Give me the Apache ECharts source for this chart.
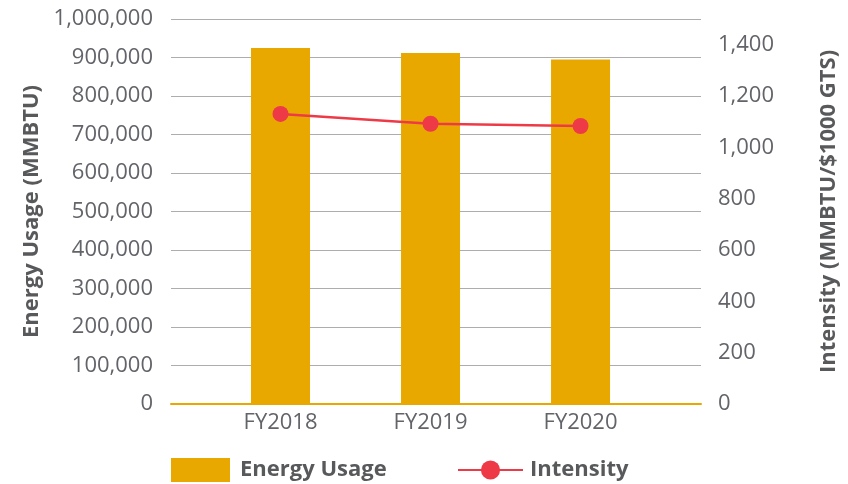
<!DOCTYPE html>
<html>
<head>
<meta charset="utf-8">
<script src="https://cdn.jsdelivr.net/npm/echarts@6/dist/echarts.min.js"></script>
<style>
  html, body { margin: 0; padding: 0; background: #fff; }
  #chart { width: 848px; height: 484px; }
</style>
</head>
<body>
<div id="chart"></div>
<script>
const categories = ['FY2018', 'FY2019', 'FY2020'];
const energyUsage = [925000, 912000, 895000];
const intensity = [1130, 1092, 1083];
const leftTicks = { min: 0, max: 1000000, interval: 100000 };
const rightTicks = { min: 0, max: 1500, interval: 200 };

const gray = '#626469';
const gold = '#E8A800';
const red = '#EE3A46';
const font = '"Open Sans", "Noto Sans", sans-serif';

const chart = echarts.init(document.getElementById('chart'), null, { renderer: 'canvas' });

chart.setOption({
  animation: false,
  backgroundColor: '#ffffff',
  textStyle: { fontFamily: font },
  grid: { left: 171, right: 147, top: 19, bottom: 80 },
  legend: [
    {
      data: [{ name: 'Energy Usage', icon: 'rect' }],
      left: 171, top: 458, padding: 0,
      itemWidth: 59, itemHeight: 24, itemGap: 0,
      textStyle: { color: '#58595b', fontSize: 22, fontWeight: 'bold', fontFamily: font, padding: [0, 0, 0, 5], lineHeight: 24 }
    },
    {
      data: ['Intensity'],
      left: 457, top: 458, padding: 0,
      itemWidth: 65, itemHeight: 24, itemGap: 0,
      textStyle: { color: '#58595b', fontSize: 22, fontWeight: 'bold', fontFamily: font, padding: [0, 0, 0, 2], lineHeight: 24 }
    }
  ],
  xAxis: {
    type: 'value',
    min: -0.73,
    max: 2.803,
    axisLine: { show: true, onZero: false, lineStyle: { color: gold, width: 2 } },
    axisTick: { show: false },
    splitLine: { show: false },
    axisLabel: {
      customValues: [0, 1, 2],
      formatter: v => categories[Math.round(v)],
      color: gray, fontSize: 22, fontFamily: font, margin: 8
    }
  },
  yAxis: [
    {
      type: 'value',
      min: leftTicks.min, max: leftTicks.max, interval: leftTicks.interval,
      name: 'Energy Usage (MMBTU)',
      nameLocation: 'middle',
      nameRotate: 90,
      nameGap: 128,
      nameTextStyle: { color: '#58595b', fontSize: 22, fontWeight: 'bold', fontFamily: font },
      axisLine: { show: false },
      axisTick: { show: false },
      axisLabel: {
        color: gray, fontSize: 22, fontFamily: font, margin: 18,
        formatter: v => v.toLocaleString('en-US')
      },
      splitLine: { show: true, lineStyle: { color: '#adadad', width: 1 } }
    },
    {
      type: 'value',
      position: 'right',
      min: rightTicks.min, max: rightTicks.max, interval: rightTicks.interval,
      name: 'Intensity (MMBTU/$1000 GTS)',
      nameLocation: 'middle',
      nameRotate: 90,
      nameGap: 117,
      nameTextStyle: { color: '#58595b', fontSize: 22, fontWeight: 'bold', fontFamily: font },
      axisLine: { show: false },
      axisTick: { show: false },
      axisLabel: {
        color: gray, fontSize: 22, fontFamily: font, margin: 17,
        showMaxLabel: false,
        formatter: v => v.toLocaleString('en-US')
      },
      splitLine: { show: false }
    }
  ],
  series: [
    {
      name: 'Energy Usage',
      type: 'bar',
      yAxisIndex: 0,
      barWidth: 59,
      itemStyle: { color: gold },
      data: energyUsage.map((v, i) => [i, v])
    },
    {
      name: 'Intensity',
      type: 'line',
      yAxisIndex: 1,
      symbol: 'circle',
      symbolSize: 16,
      lineStyle: { color: red, width: 2.5 },
      itemStyle: { color: red },
      data: intensity.map((v, i) => [i, v])
    }
  ]
});
</script>
</body>
</html>
